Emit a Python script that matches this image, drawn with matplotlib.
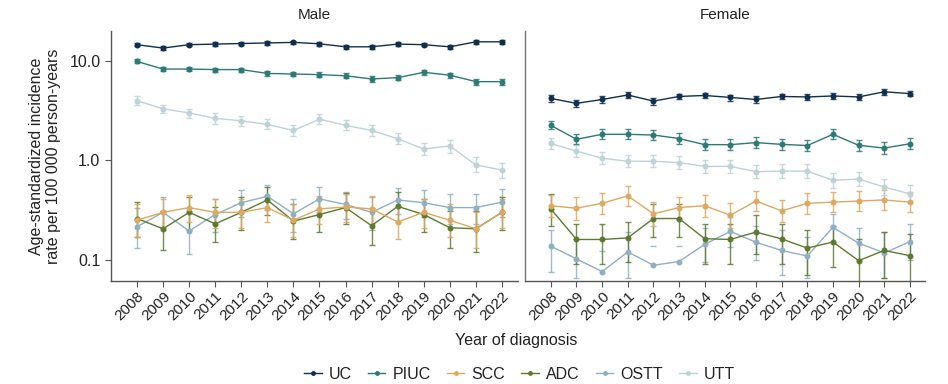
import numpy as np
import matplotlib
matplotlib.use("Agg")
import matplotlib.pyplot as plt
from matplotlib.lines import Line2D

years = list(range(2008, 2023))
series_names = ["UC", "PIUC", "SCC", "ADC", "OSTT", "UTT"]
colors = {
    "UC": "#0f2f4d",
    "PIUC": "#2b7a74",
    "SCC": "#e0a75e",
    "ADC": "#5e7a30",
    "OSTT": "#8eb0c2",
    "UTT": "#bcd3d8",
}

# Male: rate, lower CI, upper CI
male_uc = [14.6, 13.5, 14.6, 14.8, 15.0, 15.2, 15.4, 14.9, 13.9, 13.9, 14.8, 14.6, 13.9, 15.6, 15.6]
male_uc_lo = [14.0, 12.9, 14.0, 14.2, 14.4, 14.6, 14.8, 14.3, 13.3, 13.3, 14.2, 14.0, 13.3, 15.0, 15.0]
male_uc_hi = [15.2, 14.1, 15.2, 15.4, 15.6, 15.8, 16.0, 15.5, 14.5, 14.5, 15.4, 15.2, 14.5, 16.2, 16.2]

male_piuc = [9.9, 8.3, 8.3, 8.2, 8.2, 7.5, 7.4, 7.3, 7.1, 6.6, 6.8, 7.7, 7.2, 6.2, 6.2]
male_piuc_lo = [9.5, 7.9, 7.9, 7.8, 7.8, 7.1, 7.0, 6.9, 6.7, 6.2, 6.4, 7.3, 6.8, 5.8, 5.8]
male_piuc_hi = [10.4, 8.7, 8.7, 8.6, 8.6, 7.9, 7.8, 7.7, 7.5, 7.0, 7.2, 8.1, 7.6, 6.6, 6.6]

male_scc = [0.25, 0.30, 0.335, 0.30, 0.30, 0.335, 0.25, 0.325, 0.34, 0.325, 0.24, 0.30, 0.25, 0.205, 0.30]
male_scc_lo = [0.17, 0.21, 0.24, 0.21, 0.21, 0.24, 0.17, 0.23, 0.24, 0.23, 0.16, 0.21, 0.17, 0.13, 0.21]
male_scc_hi = [0.36, 0.41, 0.45, 0.41, 0.41, 0.45, 0.36, 0.44, 0.46, 0.44, 0.35, 0.41, 0.36, 0.30, 0.41]

male_adc = [0.26, 0.205, 0.30, 0.23, 0.30, 0.40, 0.245, 0.285, 0.335, 0.22, 0.345, 0.285, 0.21, 0.205, 0.30]
male_adc_lo = [0.17, 0.125, 0.20, 0.15, 0.20, 0.28, 0.16, 0.19, 0.23, 0.14, 0.24, 0.19, 0.13, 0.12, 0.20]
male_adc_hi = [0.38, 0.31, 0.43, 0.34, 0.43, 0.54, 0.36, 0.41, 0.47, 0.33, 0.48, 0.41, 0.31, 0.31, 0.43]

male_ostt = [0.215, 0.30, 0.195, 0.285, 0.375, 0.435, 0.29, 0.41, 0.36, 0.30, 0.40, 0.375, 0.335, 0.335, 0.38]
male_ostt_lo = [0.13, 0.20, 0.115, 0.19, 0.27, 0.32, 0.19, 0.30, 0.26, 0.20, 0.29, 0.27, 0.23, 0.23, 0.27]
male_ostt_hi = [0.33, 0.43, 0.31, 0.41, 0.50, 0.56, 0.41, 0.54, 0.48, 0.43, 0.53, 0.50, 0.46, 0.46, 0.51]

male_utt = [4.0, 3.3, 3.0, 2.65, 2.5, 2.3, 2.0, 2.6, 2.25, 2.0, 1.65, 1.3, 1.4, 0.9, 0.8]
male_utt_lo = [3.65, 3.0, 2.7, 2.35, 2.2, 2.05, 1.75, 2.35, 2.0, 1.75, 1.45, 1.12, 1.2, 0.76, 0.67]
male_utt_hi = [4.4, 3.65, 3.3, 3.0, 2.8, 2.6, 2.25, 2.9, 2.55, 2.25, 1.9, 1.5, 1.6, 1.07, 0.95]

# Female: rate, lower CI, upper CI
female_uc = [4.2, 3.75, 4.1, 4.55, 3.95, 4.4, 4.5, 4.3, 4.1, 4.4, 4.35, 4.45, 4.35, 4.9, 4.7]
female_uc_lo = [3.9, 3.45, 3.8, 4.25, 3.65, 4.1, 4.2, 4.0, 3.8, 4.1, 4.05, 4.15, 4.05, 4.6, 4.4]
female_uc_hi = [4.5, 4.05, 4.4, 4.85, 4.25, 4.7, 4.8, 4.6, 4.4, 4.7, 4.65, 4.75, 4.65, 5.2, 5.0]

female_piuc = [2.25, 1.63, 1.83, 1.83, 1.8, 1.66, 1.44, 1.44, 1.51, 1.45, 1.41, 1.83, 1.42, 1.33, 1.47]
female_piuc_lo = [2.05, 1.45, 1.63, 1.63, 1.6, 1.47, 1.27, 1.27, 1.33, 1.27, 1.23, 1.63, 1.25, 1.16, 1.29]
female_piuc_hi = [2.5, 1.83, 2.05, 2.05, 2.02, 1.87, 1.63, 1.63, 1.71, 1.65, 1.61, 2.05, 1.62, 1.52, 1.67]

female_scc = [0.35, 0.33, 0.37, 0.44, 0.29, 0.335, 0.35, 0.28, 0.39, 0.31, 0.37, 0.38, 0.39, 0.40, 0.38]
female_scc_lo = [0.27, 0.25, 0.29, 0.35, 0.22, 0.26, 0.27, 0.21, 0.31, 0.24, 0.29, 0.30, 0.31, 0.32, 0.30]
female_scc_hi = [0.45, 0.43, 0.47, 0.55, 0.38, 0.43, 0.45, 0.37, 0.49, 0.40, 0.47, 0.48, 0.49, 0.50, 0.48]

female_adc = [0.325, 0.16, 0.16, 0.166, 0.26, 0.26, 0.163, 0.16, 0.19, 0.162, 0.131, 0.151, 0.098, 0.124, 0.11]
female_adc_lo = [0.22, 0.09, 0.09, 0.095, 0.17, 0.17, 0.09, 0.09, 0.115, 0.09, 0.07, 0.085, 0.05, 0.065, 0.055]
female_adc_hi = [0.46, 0.23, 0.23, 0.24, 0.36, 0.36, 0.23, 0.23, 0.28, 0.23, 0.20, 0.22, 0.16, 0.19, 0.18]

# lower CI missing (zero) for a few years -> only the upper cap is drawn
female_ostt = [0.137, 0.102, 0.076, 0.12, 0.088, 0.096, 0.143, 0.193, 0.15, 0.124, 0.109, 0.212, 0.147, 0.117, 0.152]
female_ostt_lo = [0.075, 0.065, np.nan, 0.066, np.nan, np.nan, 0.095, 0.135, 0.10, 0.07, 0.065, 0.15, 0.10, 0.065, 0.10]
female_ostt_hi = [0.20, 0.16, 0.123, 0.19, 0.138, 0.138, 0.21, 0.27, 0.22, 0.20, 0.17, 0.29, 0.21, 0.19, 0.23]

female_utt = [1.48, 1.24, 1.05, 0.98, 0.98, 0.95, 0.87, 0.87, 0.77, 0.78, 0.78, 0.63, 0.65, 0.54, 0.46]
female_utt_lo = [1.3, 1.08, 0.91, 0.85, 0.85, 0.82, 0.75, 0.75, 0.66, 0.67, 0.67, 0.53, 0.55, 0.45, 0.38]
female_utt_hi = [1.68, 1.42, 1.21, 1.13, 1.13, 1.1, 1.01, 1.01, 0.9, 0.91, 0.91, 0.75, 0.77, 0.65, 0.56]

male = {
    "UC": (male_uc, male_uc_lo, male_uc_hi),
    "PIUC": (male_piuc, male_piuc_lo, male_piuc_hi),
    "SCC": (male_scc, male_scc_lo, male_scc_hi),
    "ADC": (male_adc, male_adc_lo, male_adc_hi),
    "OSTT": (male_ostt, male_ostt_lo, male_ostt_hi),
    "UTT": (male_utt, male_utt_lo, male_utt_hi),
}
female = {
    "UC": (female_uc, female_uc_lo, female_uc_hi),
    "PIUC": (female_piuc, female_piuc_lo, female_piuc_hi),
    "SCC": (female_scc, female_scc_lo, female_scc_hi),
    "ADC": (female_adc, female_adc_lo, female_adc_hi),
    "OSTT": (female_ostt, female_ostt_lo, female_ostt_hi),
    "UTT": (female_utt, female_utt_lo, female_utt_hi),
}

plt.rcParams["font.family"] = ["Liberation Sans", "DejaVu Sans"]
TEXT = "#222222"
SPINE = "#555555"

fig = plt.figure(figsize=(9.48, 3.84), dpi=100)
ax_m = fig.add_axes([0.117, 0.268, 0.429, 0.651])
ax_f = fig.add_axes([0.554, 0.268, 0.422, 0.651], sharey=ax_m)


def draw_panel(ax, data, title):
    x = np.array(years)
    # draw order: lower series first, big ones on top
    for name in ["OSTT", "ADC", "SCC", "UTT", "PIUC", "UC"]:
        vals, lo, hi = (np.array(a, dtype=float) for a in data[name])
        c = colors[name]
        ok = ~np.isnan(lo)
        ax.errorbar(x[ok], vals[ok], yerr=[vals[ok] - lo[ok], hi[ok] - vals[ok]],
                    fmt="none", ecolor=c, elinewidth=1.0, capsize=2.2,
                    capthick=1.0, alpha=0.85, zorder=2)
        if (~ok).any():
            ax.scatter(x[~ok], hi[~ok], marker="_", s=18, color=c,
                       linewidths=1.0, alpha=0.85, zorder=2)
        ax.plot(x, vals, color=c, lw=1.0, marker="o", ms=4.3,
                markeredgewidth=0, zorder=3)

    ax.set_yscale("log")
    ax.set_ylim(0.061, 20)
    ax.set_xlim(2007.0, 2022.6)
    ax.set_xticks(years)
    ax.set_xticklabels([str(y) for y in years], rotation=45, ha="right",
                       rotation_mode="anchor", fontsize=11, color=TEXT)
    ax.set_title(title, fontsize=11, color=TEXT, pad=9)
    for side in ["top", "right"]:
        ax.spines[side].set_visible(False)
    for side in ["left", "bottom"]:
        ax.spines[side].set_color(SPINE)
        ax.spines[side].set_linewidth(1.0)
    ax.tick_params(axis="x", length=4, color=SPINE, pad=2)


draw_panel(ax_m, male, "Male")
draw_panel(ax_f, female, "Female")

ax_m.set_yticks([0.1, 1.0, 10.0])
ax_m.set_yticklabels(["0.1", "1.0", "10.0"], fontsize=11.5, color=TEXT)
ax_m.yaxis.set_minor_locator(matplotlib.ticker.NullLocator())
ax_m.tick_params(axis="y", length=4, color=SPINE)
ax_m.set_ylabel("Age-standardized incidence\nrate per 100 000 person-years",
                fontsize=11.5, color=TEXT, labelpad=6)
ax_f.tick_params(axis="y", which="both", left=False, labelleft=False)
ax_f.spines["left"].set_color("#777777")

fig.text(0.545, 0.112, "Year of diagnosis", ha="center", va="center",
         fontsize=11.5, color=TEXT)

handles = [Line2D([0], [0], color=colors[n], lw=1.0, marker="o", ms=3.5,
                  markeredgewidth=0) for n in series_names]
fig.legend(handles, series_names, loc="center", bbox_to_anchor=(0.548, 0.026),
           ncol=6, frameon=False, fontsize=11.5, handlelength=1.1,
           handletextpad=0.45, columnspacing=1.0, labelcolor=TEXT)

fig.savefig("out.png", dpi=100)
